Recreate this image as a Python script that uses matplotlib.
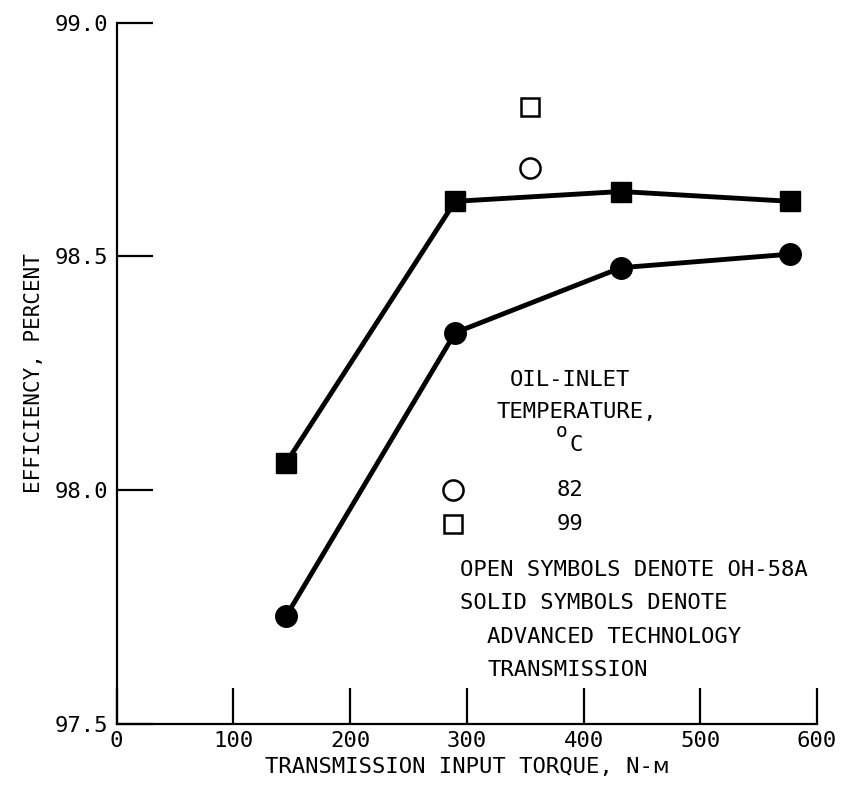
import matplotlib
matplotlib.use('Agg')
import matplotlib.pyplot as plt

# advanced technology transmission (solid symbols)
torque_att = [145, 290, 432, 577]
eff_82 = [97.73, 98.337, 98.476, 98.505]
eff_99 = [98.058, 98.618, 98.639, 98.618]

# OH-58A (open symbols)
torque_oh58 = [354]
eff_oh58_82 = [98.689]
eff_oh58_99 = [98.82]

xticks = [0, 100, 200, 300, 400, 500, 600]
yticks = [97.5, 98.0, 98.5, 99.0]

plt.rcParams['font.family'] = ['DejaVu Sans Mono', 'DejaVu Sans', 'Noto Sans']

fig = plt.figure(figsize=(8.43, 7.95), dpi=100)
ax = fig.add_axes([0.1384, 0.0893, 0.8308, 0.8821])

lw = 3.5
ax.plot(torque_att, eff_82, '-o', color='black', lw=lw, ms=15.5, clip_on=False)
ax.plot(torque_att, eff_99, '-s', color='black', lw=lw, ms=14, clip_on=False)
ax.plot(torque_oh58, eff_oh58_82, 'o', mfc='white', mec='black', mew=1.8, ms=14.5)
ax.plot(torque_oh58, eff_oh58_99, 's', mfc='white', mec='black', mew=1.8, ms=13.5)

ax.set_xlim(0, 600)
ax.set_ylim(97.5, 99.0)
ax.set_xticks(xticks)
ax.set_xticklabels([str(v) for v in xticks])
ax.set_yticks(yticks)
ax.set_yticklabels([f'{v:.1f}' for v in yticks])

for s in ['top', 'right']:
    ax.spines[s].set_visible(False)
for s in ['left', 'bottom']:
    ax.spines[s].set_linewidth(1.6)
ax.tick_params(direction='in', length=26, width=1.6, labelsize=16)
ax.tick_params(axis='x', pad=5)
ax.tick_params(axis='y', pad=6)

ax.set_xlabel('TRANSMISSION INPUT TORQUE, N-\u1d0d', fontsize=16, labelpad=4)
ax.set_ylabel('EFFICIENCY, PERCENT', fontsize=15, labelpad=8)

# legend block
fs = 16
ax.text(388, 98.235, 'OIL-INLET', fontsize=fs, ha='center', va='center')
ax.text(394, 98.167, 'TEMPERATURE,', fontsize=fs, ha='center', va='center')
ax.text(381.5, 98.125, 'o', fontsize=fs - 2, ha='center', va='center')
ax.text(394, 98.096, 'C', fontsize=fs, ha='center', va='center')
ax.plot([288], [98.0], 'o', mfc='white', mec='black', mew=1.8, ms=14.5)
ax.plot([288], [97.927], 's', mfc='white', mec='black', mew=1.8, ms=13.5)
ax.text(377, 98.0, '82', fontsize=fs, ha='left', va='center')
ax.text(377, 97.927, '99', fontsize=fs, ha='left', va='center')
ax.text(294, 97.829, 'OPEN SYMBOLS DENOTE OH-58A', fontsize=fs, ha='left', va='center')
ax.text(294, 97.758, 'SOLID SYMBOLS DENOTE', fontsize=fs, ha='left', va='center')
ax.text(317, 97.687, 'ADVANCED TECHNOLOGY', fontsize=fs, ha='left', va='center')
ax.text(318, 97.615, 'TRANSMISSION', fontsize=fs, ha='left', va='center')

fig.savefig('out.png', dpi=100)
